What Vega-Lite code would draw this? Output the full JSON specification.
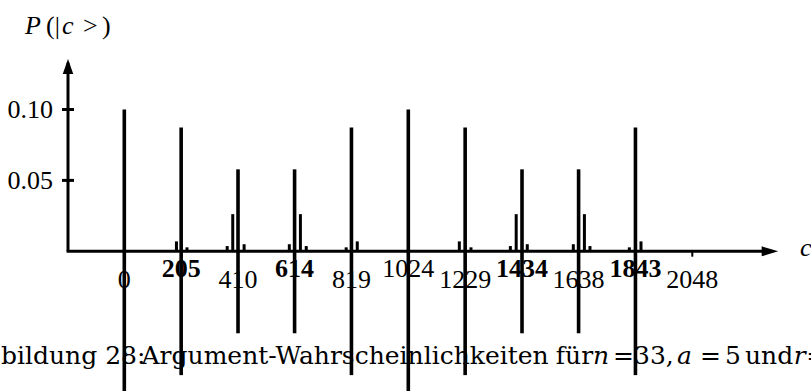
{
  "$schema": "https://vega.github.io/schema/vega-lite/v6.json",
  "width": 811,
  "height": 391,
  "autosize": {"type": "none"},
  "padding": 0,
  "background": "white",
  "config": {
    "view": {"stroke": null},
    "text": {"font": "Liberation Serif", "fontSize": 26, "color": "black"},
    "rule": {"color": "black"},
    "point": {"color": "black", "filled": true, "opacity": 1, "strokeWidth": 0}
  },
  "datasets": {
    "bars": [
      {"c": 0, "p": 0.1, "peak": true},
      {"c": 188, "p": 0.007, "peak": false},
      {"c": 205, "p": 0.0873, "peak": true},
      {"c": 226, "p": 0.0028, "peak": false},
      {"c": 371, "p": 0.0037, "peak": false},
      {"c": 391, "p": 0.0262, "peak": false},
      {"c": 410, "p": 0.0578, "peak": true},
      {"c": 432, "p": 0.005, "peak": false},
      {"c": 595, "p": 0.005, "peak": false},
      {"c": 614, "p": 0.0578, "peak": true},
      {"c": 635, "p": 0.0262, "peak": false},
      {"c": 656, "p": 0.0037, "peak": false},
      {"c": 800, "p": 0.0028, "peak": false},
      {"c": 819, "p": 0.0873, "peak": true},
      {"c": 840, "p": 0.007, "peak": false},
      {"c": 1024, "p": 0.1, "peak": true},
      {"c": 1208, "p": 0.007, "peak": false},
      {"c": 1229, "p": 0.0873, "peak": true},
      {"c": 1250, "p": 0.0028, "peak": false},
      {"c": 1392, "p": 0.0037, "peak": false},
      {"c": 1413, "p": 0.0262, "peak": false},
      {"c": 1434, "p": 0.0578, "peak": true},
      {"c": 1453, "p": 0.005, "peak": false},
      {"c": 1619, "p": 0.005, "peak": false},
      {"c": 1638, "p": 0.0578, "peak": true},
      {"c": 1659, "p": 0.0262, "peak": false},
      {"c": 1679, "p": 0.0037, "peak": false},
      {"c": 1821, "p": 0.0028, "peak": false},
      {"c": 1843, "p": 0.0873, "peak": true},
      {"c": 1863, "p": 0.007, "peak": false}
    ],
    "xticks": [
      {"c": 0, "label": "0", "bold": false, "raised": false},
      {"c": 205, "label": "205", "bold": true, "raised": true},
      {"c": 410, "label": "410", "bold": false, "raised": false},
      {"c": 614, "label": "614", "bold": true, "raised": true},
      {"c": 819, "label": "819", "bold": false, "raised": false},
      {"c": 1024, "label": "1024", "bold": false, "raised": true},
      {"c": 1229, "label": "1229", "bold": false, "raised": false},
      {"c": 1434, "label": "1434", "bold": true, "raised": true},
      {"c": 1638, "label": "1638", "bold": false, "raised": false},
      {"c": 1843, "label": "1843", "bold": true, "raised": true},
      {"c": 2048, "label": "2048", "bold": false, "raised": false}
    ],
    "yticks": [
      {"v": 0.05, "label": "0.05"},
      {"v": 0.1, "label": "0.10"}
    ],
    "one": [{}]
  },
  "resolve": {"scale": {"y": "independent"}},
  "layer": [
    {
      "layer": [
        {
          "data": {"name": "one"},
          "mark": {"type": "rule", "strokeWidth": 3},
          "encoding": {
            "x": {"datum": -203, "type": "quantitative", "scale": {"domain": [-448.2, 2476], "nice": false, "zero": false}, "axis": null},
            "y": {"datum": 0, "type": "quantitative", "scale": {"domain": [-0.0985, 0.1772], "nice": false, "zero": false}, "axis": null},
            "y2": {"datum": 0.133}
          }
        },
        {
          "data": {"name": "one"},
          "mark": {"type": "point", "shape": "M0,-1L0.7,1L-0.7,1Z", "size": 225},
          "encoding": {
            "x": {"datum": -203, "type": "quantitative", "scale": {"domain": [-448.2, 2476], "nice": false, "zero": false}, "axis": null},
            "y": {"datum": 0.1303, "type": "quantitative", "scale": {"domain": [-0.0985, 0.1772], "nice": false, "zero": false}, "axis": null}
          }
        },
        {
          "data": {"name": "one"},
          "mark": {"type": "rule", "strokeWidth": 3},
          "encoding": {
            "x": {"datum": -208, "type": "quantitative", "scale": {"domain": [-448.2, 2476], "nice": false, "zero": false}, "axis": null},
            "x2": {"datum": 2322},
            "y": {"datum": 0, "type": "quantitative", "scale": {"domain": [-0.0985, 0.1772], "nice": false, "zero": false}, "axis": null}
          }
        },
        {
          "data": {"name": "one"},
          "mark": {"type": "point", "shape": "M1,0L-1,0.6L-1,-0.6Z", "size": 275},
          "encoding": {
            "x": {"datum": 2328, "type": "quantitative", "scale": {"domain": [-448.2, 2476], "nice": false, "zero": false}, "axis": null},
            "y": {"datum": 0, "type": "quantitative", "scale": {"domain": [-0.0985, 0.1772], "nice": false, "zero": false}, "axis": null}
          }
        },
        {
          "data": {"name": "yticks"},
          "mark": {"type": "rule", "strokeWidth": 3},
          "encoding": {
            "x": {"datum": -224.6, "type": "quantitative", "scale": {"domain": [-448.2, 2476], "nice": false, "zero": false}, "axis": null},
            "x2": {"datum": -181.4},
            "y": {"field": "v", "type": "quantitative", "scale": {"domain": [-0.0985, 0.1772], "nice": false, "zero": false}, "axis": null}
          }
        },
        {
          "data": {"name": "yticks"},
          "mark": {"type": "text", "align": "right", "baseline": "alphabetic", "dy": 8.5},
          "encoding": {
            "x": {"datum": -257, "type": "quantitative", "scale": {"domain": [-448.2, 2476], "nice": false, "zero": false}, "axis": null},
            "y": {"field": "v", "type": "quantitative", "scale": {"domain": [-0.0985, 0.1772], "nice": false, "zero": false}, "axis": null},
            "text": {"field": "label"}
          }
        },
        {
          "data": {"name": "xticks"},
          "mark": {"type": "rule", "strokeWidth": 2},
          "encoding": {
            "x": {"field": "c", "type": "quantitative", "scale": {"domain": [-448.2, 2476], "nice": false, "zero": false}, "axis": null},
            "y": {"datum": 0, "type": "quantitative", "scale": {"domain": [-0.0985, 0.1772], "nice": false, "zero": false}, "axis": null},
            "y2": {"datum": -0.0038}
          }
        },
        {
          "data": {"name": "bars"},
          "transform": [{"filter": "!datum.peak"}],
          "mark": {"type": "rule", "strokeWidth": 3},
          "encoding": {
            "x": {"field": "c", "type": "quantitative", "scale": {"domain": [-448.2, 2476], "nice": false, "zero": false}, "axis": null},
            "y": {"field": "p", "type": "quantitative", "scale": {"domain": [-0.0985, 0.1772], "nice": false, "zero": false}, "axis": null},
            "y2": {"datum": 0}
          }
        },
        {
          "data": {"name": "bars"},
          "transform": [{"filter": "datum.peak"}],
          "mark": {"type": "rule", "strokeWidth": 3.6},
          "encoding": {
            "x": {"field": "c", "type": "quantitative", "scale": {"domain": [-448.2, 2476], "nice": false, "zero": false}, "axis": null},
            "y": {"field": "p", "type": "quantitative", "scale": {"domain": [-0.0985, 0.1772], "nice": false, "zero": false}, "axis": null},
            "y2": {"datum": 0}
          }
        },
        {
          "data": {"name": "xticks"},
          "transform": [{"filter": "!datum.raised"}],
          "mark": {"type": "text", "align": "center", "baseline": "alphabetic"},
          "encoding": {
            "x": {"field": "c", "type": "quantitative", "scale": {"domain": [-448.2, 2476], "nice": false, "zero": false}, "axis": null},
            "y": {"datum": -0.0259, "type": "quantitative", "scale": {"domain": [-0.0985, 0.1772], "nice": false, "zero": false}, "axis": null},
            "text": {"field": "label"}
          }
        },
        {
          "data": {"name": "xticks"},
          "transform": [{"filter": "datum.raised && !datum.bold"}],
          "mark": {"type": "text", "align": "center", "baseline": "alphabetic"},
          "encoding": {
            "x": {"field": "c", "type": "quantitative", "scale": {"domain": [-448.2, 2476], "nice": false, "zero": false}, "axis": null},
            "y": {"datum": -0.0179, "type": "quantitative", "scale": {"domain": [-0.0985, 0.1772], "nice": false, "zero": false}, "axis": null},
            "text": {"field": "label"}
          }
        },
        {
          "data": {"name": "xticks"},
          "transform": [{"filter": "datum.bold"}],
          "mark": {"type": "text", "align": "center", "baseline": "alphabetic", "fontWeight": "bold"},
          "encoding": {
            "x": {"field": "c", "type": "quantitative", "scale": {"domain": [-448.2, 2476], "nice": false, "zero": false}, "axis": null},
            "y": {"datum": -0.0179, "type": "quantitative", "scale": {"domain": [-0.0985, 0.1772], "nice": false, "zero": false}, "axis": null},
            "text": {"field": "label"}
          }
        },
        {
          "data": {"name": "one"},
          "mark": {"type": "text", "align": "left", "baseline": "alphabetic", "fontStyle": "italic", "text": "c"},
          "encoding": {
            "x": {"datum": 2436, "type": "quantitative", "scale": {"domain": [-448.2, 2476], "nice": false, "zero": false}, "axis": null},
            "y": {"datum": -0.0033, "type": "quantitative", "scale": {"domain": [-0.0985, 0.1772], "nice": false, "zero": false}, "axis": null}
          }
        },
        {
          "data": {"name": "one"},
          "mark": {"type": "text", "align": "left", "baseline": "middle", "fontStyle": "italic", "text": "P"},
          "encoding": {
            "x": {"datum": -358, "type": "quantitative", "scale": {"domain": [-448.2, 2476], "nice": false, "zero": false}, "axis": null},
            "y": {"datum": 0.1589, "type": "quantitative", "scale": {"domain": [-0.0985, 0.1772], "nice": false, "zero": false}, "axis": null}
          }
        },
        {
          "data": {"name": "one"},
          "mark": {"type": "text", "align": "left", "baseline": "middle", "text": "(|"},
          "encoding": {
            "x": {"datum": -282.3, "type": "quantitative", "scale": {"domain": [-448.2, 2476], "nice": false, "zero": false}, "axis": null},
            "y": {"datum": 0.1589, "type": "quantitative", "scale": {"domain": [-0.0985, 0.1772], "nice": false, "zero": false}, "axis": null}
          }
        },
        {
          "data": {"name": "one"},
          "mark": {"type": "text", "align": "left", "baseline": "middle", "fontStyle": "italic", "text": "c"},
          "encoding": {
            "x": {"datum": -224.6, "type": "quantitative", "scale": {"domain": [-448.2, 2476], "nice": false, "zero": false}, "axis": null},
            "y": {"datum": 0.1589, "type": "quantitative", "scale": {"domain": [-0.0985, 0.1772], "nice": false, "zero": false}, "axis": null}
          }
        },
        {
          "data": {"name": "one"},
          "mark": {"type": "text", "align": "left", "baseline": "middle", "text": ">"},
          "encoding": {
            "x": {"datum": -148.9, "type": "quantitative", "scale": {"domain": [-448.2, 2476], "nice": false, "zero": false}, "axis": null},
            "y": {"datum": 0.1589, "type": "quantitative", "scale": {"domain": [-0.0985, 0.1772], "nice": false, "zero": false}, "axis": null}
          }
        },
        {
          "data": {"name": "one"},
          "mark": {"type": "text", "align": "left", "baseline": "middle", "text": ")"},
          "encoding": {
            "x": {"datum": -80.4, "type": "quantitative", "scale": {"domain": [-448.2, 2476], "nice": false, "zero": false}, "axis": null},
            "y": {"datum": 0.1589, "type": "quantitative", "scale": {"domain": [-0.0985, 0.1772], "nice": false, "zero": false}, "axis": null}
          }
        },
        {
          "data": {"name": "one"},
          "mark": {"type": "text", "font": "DejaVu Serif", "fontSize": 25, "align": "left", "baseline": "alphabetic", "text": "bildung 28:"},
          "encoding": {
            "x": {"datum": -444.6, "type": "quantitative", "scale": {"domain": [-448.2, 2476], "nice": false, "zero": false}, "axis": null},
            "y": {"datum": -0.0795, "type": "quantitative", "scale": {"domain": [-0.0985, 0.1772], "nice": false, "zero": false}, "axis": null}
          }
        },
        {
          "data": {"name": "one"},
          "mark": {"type": "text", "font": "DejaVu Serif", "fontSize": 25, "align": "left", "baseline": "alphabetic", "text": "Argument-Wahrscheinlichkeiten"},
          "encoding": {
            "x": {"datum": 62.2, "type": "quantitative", "scale": {"domain": [-448.2, 2476], "nice": false, "zero": false}, "axis": null},
            "y": {"datum": -0.0795, "type": "quantitative", "scale": {"domain": [-0.0985, 0.1772], "nice": false, "zero": false}, "axis": null}
          }
        },
        {
          "data": {"name": "one"},
          "mark": {"type": "text", "font": "DejaVu Serif", "fontSize": 25, "align": "left", "baseline": "alphabetic", "text": "für"},
          "encoding": {
            "x": {"datum": 1556, "type": "quantitative", "scale": {"domain": [-448.2, 2476], "nice": false, "zero": false}, "axis": null},
            "y": {"datum": -0.0795, "type": "quantitative", "scale": {"domain": [-0.0985, 0.1772], "nice": false, "zero": false}, "axis": null}
          }
        },
        {
          "data": {"name": "one"},
          "mark": {"type": "text", "font": "DejaVu Serif", "fontSize": 25, "align": "left", "baseline": "alphabetic", "fontStyle": "italic", "text": "n"},
          "encoding": {
            "x": {"datum": 1690, "type": "quantitative", "scale": {"domain": [-448.2, 2476], "nice": false, "zero": false}, "axis": null},
            "y": {"datum": -0.0795, "type": "quantitative", "scale": {"domain": [-0.0985, 0.1772], "nice": false, "zero": false}, "axis": null}
          }
        },
        {
          "data": {"name": "one"},
          "mark": {"type": "text", "font": "DejaVu Serif", "fontSize": 25, "align": "left", "baseline": "alphabetic", "text": "="},
          "encoding": {
            "x": {"datum": 1762, "type": "quantitative", "scale": {"domain": [-448.2, 2476], "nice": false, "zero": false}, "axis": null},
            "y": {"datum": -0.0795, "type": "quantitative", "scale": {"domain": [-0.0985, 0.1772], "nice": false, "zero": false}, "axis": null}
          }
        },
        {
          "data": {"name": "one"},
          "mark": {"type": "text", "font": "DejaVu Serif", "fontSize": 25, "align": "left", "baseline": "alphabetic", "text": "33,"},
          "encoding": {
            "x": {"datum": 1838, "type": "quantitative", "scale": {"domain": [-448.2, 2476], "nice": false, "zero": false}, "axis": null},
            "y": {"datum": -0.0795, "type": "quantitative", "scale": {"domain": [-0.0985, 0.1772], "nice": false, "zero": false}, "axis": null}
          }
        },
        {
          "data": {"name": "one"},
          "mark": {"type": "text", "font": "DejaVu Serif", "fontSize": 25, "align": "left", "baseline": "alphabetic", "fontStyle": "italic", "text": "a"},
          "encoding": {
            "x": {"datum": 1992.9, "type": "quantitative", "scale": {"domain": [-448.2, 2476], "nice": false, "zero": false}, "axis": null},
            "y": {"datum": -0.0795, "type": "quantitative", "scale": {"domain": [-0.0985, 0.1772], "nice": false, "zero": false}, "axis": null}
          }
        },
        {
          "data": {"name": "one"},
          "mark": {"type": "text", "font": "DejaVu Serif", "fontSize": 25, "align": "left", "baseline": "alphabetic", "text": "="},
          "encoding": {
            "x": {"datum": 2075.8, "type": "quantitative", "scale": {"domain": [-448.2, 2476], "nice": false, "zero": false}, "axis": null},
            "y": {"datum": -0.0795, "type": "quantitative", "scale": {"domain": [-0.0985, 0.1772], "nice": false, "zero": false}, "axis": null}
          }
        },
        {
          "data": {"name": "one"},
          "mark": {"type": "text", "font": "DejaVu Serif", "fontSize": 25, "align": "left", "baseline": "alphabetic", "text": "5"},
          "encoding": {
            "x": {"datum": 2165.9, "type": "quantitative", "scale": {"domain": [-448.2, 2476], "nice": false, "zero": false}, "axis": null},
            "y": {"datum": -0.0795, "type": "quantitative", "scale": {"domain": [-0.0985, 0.1772], "nice": false, "zero": false}, "axis": null}
          }
        },
        {
          "data": {"name": "one"},
          "mark": {"type": "text", "font": "DejaVu Serif", "fontSize": 25, "align": "left", "baseline": "alphabetic", "text": "und"},
          "encoding": {
            "x": {"datum": 2238, "type": "quantitative", "scale": {"domain": [-448.2, 2476], "nice": false, "zero": false}, "axis": null},
            "y": {"datum": -0.0795, "type": "quantitative", "scale": {"domain": [-0.0985, 0.1772], "nice": false, "zero": false}, "axis": null}
          }
        },
        {
          "data": {"name": "one"},
          "mark": {"type": "text", "font": "DejaVu Serif", "fontSize": 25, "align": "left", "baseline": "alphabetic", "fontStyle": "italic", "text": "r"},
          "encoding": {
            "x": {"datum": 2414, "type": "quantitative", "scale": {"domain": [-448.2, 2476], "nice": false, "zero": false}, "axis": null},
            "y": {"datum": -0.0795, "type": "quantitative", "scale": {"domain": [-0.0985, 0.1772], "nice": false, "zero": false}, "axis": null}
          }
        },
        {
          "data": {"name": "one"},
          "mark": {"type": "text", "font": "DejaVu Serif", "fontSize": 25, "align": "left", "baseline": "alphabetic", "text": "="},
          "encoding": {
            "x": {"datum": 2459, "type": "quantitative", "scale": {"domain": [-448.2, 2476], "nice": false, "zero": false}, "axis": null},
            "y": {"datum": -0.0795, "type": "quantitative", "scale": {"domain": [-0.0985, 0.1772], "nice": false, "zero": false}, "axis": null}
          }
        }
      ]
    },
    {
      "data": {"name": "bars"},
      "transform": [{"filter": "datum.peak"}],
      "mark": {"type": "rule", "strokeWidth": 3.6},
      "encoding": {
        "x": {"field": "c", "type": "quantitative", "scale": {"domain": [-448.2, 2476], "nice": false, "zero": false}, "axis": null},
        "y": {"field": "p", "type": "quantitative", "scale": {"domain": [-0.1772, 0.0985], "reverse": true, "nice": false, "zero": false}, "axis": null},
        "y2": {"datum": 0}
      }
    }
  ]
}
